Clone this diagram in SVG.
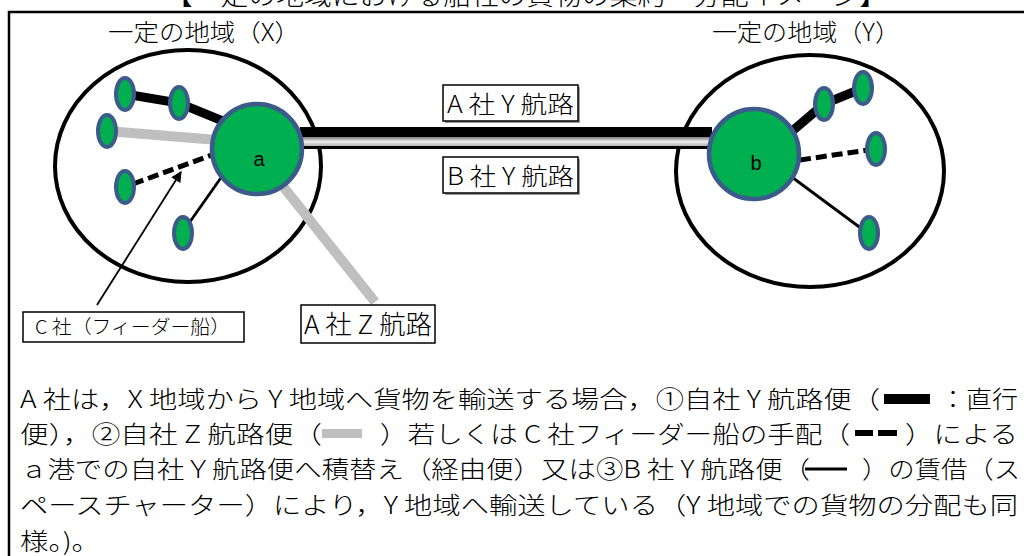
<svg xmlns="http://www.w3.org/2000/svg" width="1024" height="556" viewBox="0 0 1024 556">
<style>
.t{font-family:"Noto Sans CJK JP","Noto Sans CJK SC",sans-serif;fill:#000;font-weight:300}
.body{font-size:24px}
.lbl{font-size:24px}
.region{fill:none;stroke:#000;stroke-width:4}
.port{fill:#00B050;stroke:#3B5C8A;stroke-width:4}
.hub{fill:#00B050;stroke:#3B5C8A;stroke-width:4.5}
.box{fill:#fff;stroke:#000;stroke-width:1.5}
.shadow{fill:#9a9a9a}
.thick{stroke:#000;stroke-width:9;fill:none}
.gray{stroke:#BFBFBF;stroke-width:10;fill:none}
.dash{stroke:#000;stroke-width:5;stroke-dasharray:11 5;fill:none}
.thin{stroke:#000;stroke-width:2.8;fill:none}
.hl{font-family:"Liberation Sans",Arial,sans-serif;font-size:20px;fill:#000}
</style>
<defs>
<marker id="arr" viewBox="0 0 10 10" refX="9" refY="5" markerWidth="7" markerHeight="6" orient="auto" markerUnits="strokeWidth">
<path d="M0,0 L10,5 L0,10 z" fill="#000"/>
</marker>
<linearGradient id="band" x1="0" y1="0" x2="0" y2="1">
<stop offset="0" stop-color="#7a7a7a"/>
<stop offset="0.5" stop-color="#ececec"/>
<stop offset="1" stop-color="#b5b5b5"/>
</linearGradient>
</defs>
<rect width="1024" height="556" fill="#fff"/>

<g id="title">
<text class="t" x="165" y="5" font-size="26" textLength="722" lengthAdjust="spacingAndGlyphs">【一定の地域における船社の貨物の集約－分配イメージ】</text>
</g>
<g id="frame">
<path d="M9,580 L9,12 L1030,12" fill="none" stroke="#000" stroke-width="2.5"/>
</g>

<g id="region-x">
<ellipse class="region" cx="188" cy="166" rx="133" ry="116"/>
<text class="t lbl" x="108" y="41" textLength="192" lengthAdjust="spacingAndGlyphs">一定の地域（X）</text>
</g>
<g id="region-y">
<ellipse class="region" cx="810" cy="171" rx="134" ry="116"/>
<text class="t lbl" x="712" y="41" textLength="188" lengthAdjust="spacingAndGlyphs">一定の地域（Y）</text>
</g>

<g id="connectors">
<line x1="300" y1="132" x2="712" y2="132" stroke="#000" stroke-width="10"/>
<rect x="300" y="137" width="412" height="9" fill="url(#band)"/>
<line x1="300" y1="147.5" x2="712" y2="147.5" stroke="#000" stroke-width="2.8"/>
<polyline class="thick" points="125,94 179,103 240,128"/>
<line class="gray" x1="107" y1="131" x2="230" y2="141"/>
<line class="dash" x1="133" y1="184" x2="220" y2="152"/>
<line class="thin" x1="187" y1="226" x2="225" y2="172"/>
<line class="gray" x1="270" y1="170" x2="375" y2="302"/>
<polyline class="thick" points="770,150 824,104 863,88"/>
<line class="dash" x1="800" y1="160" x2="868" y2="150"/>
<line class="thin" x1="785" y1="172" x2="862" y2="229"/>
<line x1="97" y1="305" x2="181" y2="172" stroke="#000" stroke-width="1.8" marker-end="url(#arr)"/>
</g>

<g id="ports-x">
<ellipse class="port" cx="125" cy="94" rx="9" ry="16"/>
<ellipse class="port" cx="179" cy="103" rx="9" ry="16"/>
<ellipse class="port" cx="107" cy="131" rx="9" ry="16"/>
<ellipse class="port" cx="125" cy="187" rx="9" ry="16"/>
<ellipse class="port" cx="183" cy="233" rx="9" ry="16"/>
</g>
<g id="ports-y">
<ellipse class="port" cx="824" cy="104" rx="9" ry="16"/>
<ellipse class="port" cx="863" cy="88" rx="9" ry="16"/>
<ellipse class="port" cx="876" cy="149" rx="9" ry="16"/>
<ellipse class="port" cx="869" cy="233" rx="9" ry="16"/>
</g>

<g id="node-a">
<circle class="hub" cx="257" cy="149" r="45"/>
<text class="hl" x="259" y="166" text-anchor="middle">a</text>
</g>
<g id="node-b">
<circle class="hub" cx="754" cy="154" r="45"/>
<text class="hl" x="756" y="170" text-anchor="middle">b</text>
</g>

<g id="label-aY">
<rect class="shadow" x="445" y="87" width="135" height="36"/>
<rect class="box" x="443" y="85" width="135" height="36"/>
<text class="t lbl" x="447" y="113" textLength="127" lengthAdjust="spacingAndGlyphs">A 社 Y 航路</text>
</g>
<g id="label-bY">
<rect class="shadow" x="445" y="159" width="135" height="36"/>
<rect class="box" x="443" y="157" width="135" height="36"/>
<text class="t lbl" x="447" y="185" textLength="127" lengthAdjust="spacingAndGlyphs">B 社 Y 航路</text>
</g>
<g id="label-aZ">
<rect class="box" x="301" y="305" width="134" height="38"/>
<text class="t" font-size="26" x="304" y="334" textLength="128" lengthAdjust="spacingAndGlyphs">A 社 Z 航路</text>
</g>
<g id="label-c">
<rect class="box" x="23" y="312" width="221" height="30"/>
<text class="t" font-size="19" x="35" y="334" textLength="195" lengthAdjust="spacingAndGlyphs">C 社（フィーダー船）</text>
</g>

<g id="body">
<text class="t body" x="20" y="408" textLength="860" lengthAdjust="spacingAndGlyphs">A 社は，X 地域から Y 地域へ貨物を輸送する場合，①自社 Y 航路便（</text>
<rect x="884" y="394" width="46" height="10" fill="#000"/>
<text class="t body" x="940" y="408" textLength="78" lengthAdjust="spacingAndGlyphs">：直行</text>
<text class="t body" x="20" y="443" textLength="302" lengthAdjust="spacingAndGlyphs">便），②自社 Z 航路便（</text>
<rect x="322" y="429" width="40" height="9" fill="#BFBFBF"/>
<text class="t body" x="380" y="443" textLength="470" lengthAdjust="spacingAndGlyphs">）若しくは C 社フィーダー船の手配（</text>
<rect x="855" y="430" width="18" height="6" fill="#000"/>
<rect x="878" y="430" width="19" height="6" fill="#000"/>
<text class="t body" x="905" y="443" textLength="113" lengthAdjust="spacingAndGlyphs">）による</text>
<text class="t body" x="20" y="478" textLength="790" lengthAdjust="spacingAndGlyphs">ａ港での自社Ｙ航路便へ積替え（経由便）又は③B 社 Y 航路便（</text>
<line x1="805" y1="469" x2="847" y2="469" stroke="#000" stroke-width="3"/>
<text class="t body" x="862" y="478" textLength="158" lengthAdjust="spacingAndGlyphs">）の賃借（ス</text>
<text class="t body" x="20" y="514" textLength="998" lengthAdjust="spacingAndGlyphs">ペースチャーター）により，Y 地域へ輸送している（Y 地域での貨物の分配も同</text>
<text class="t body" x="20" y="550" textLength="80" lengthAdjust="spacingAndGlyphs">様。)。</text>
</g>
</svg>
